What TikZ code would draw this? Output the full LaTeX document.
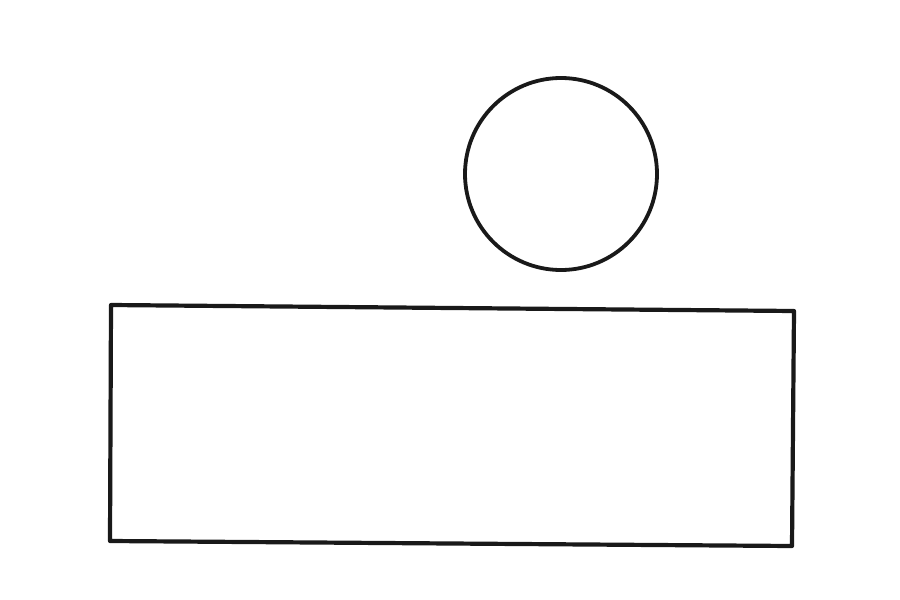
\documentclass[tikz,border=0pt]{standalone}
\begin{document}
\begin{tikzpicture}[x=1pt,y=-1pt,
  shape line/.style={draw=black!90,line width=4.2pt,line join=round}]
\useasboundingbox (0,0) rectangle (900,600);
\fill[white] (0,0) rectangle (900,600);
\coordinate (tl) at (111,305);
\coordinate (tr) at (794,311);
\coordinate (br) at (792,546);
\coordinate (bl) at (110,541);
\coordinate (c) at (561,174);
\draw[shape line] (tl) -- (tr) -- (br) -- (bl) -- cycle;
\draw[shape line,line width=3.8pt] (c) circle[radius=96];
\end{tikzpicture}
\end{document}
